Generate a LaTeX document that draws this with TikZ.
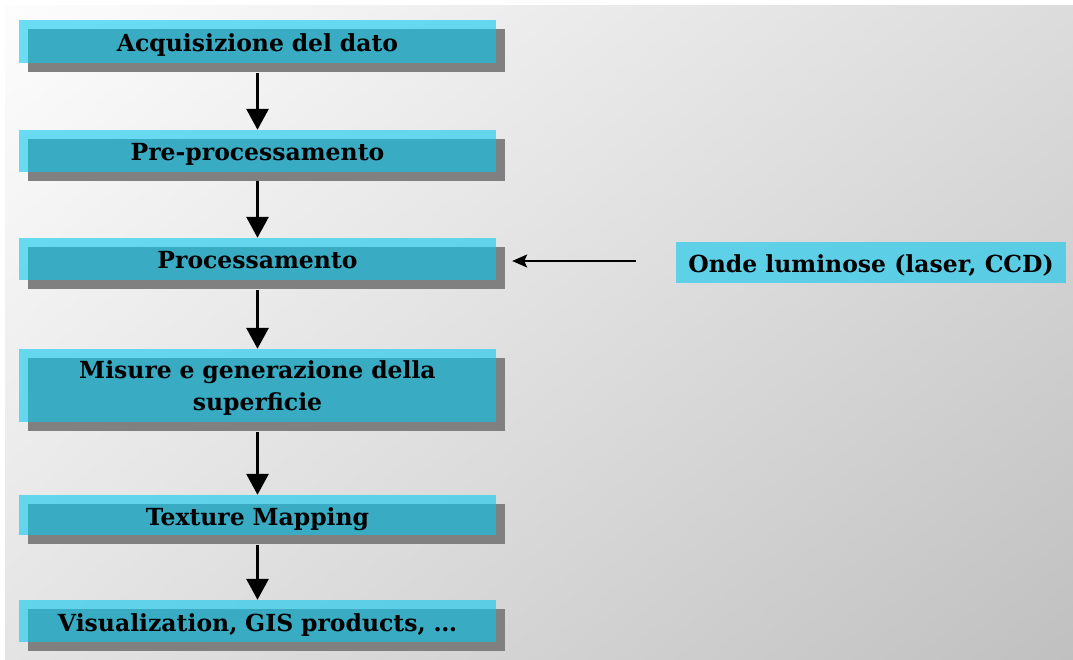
\documentclass[tikz,border=0pt]{standalone}
\usepackage{fontspec}
\setmainfont{DejaVu Serif}
\usetikzlibrary{arrows.meta,shadows,calc,shadings}
\definecolor{boxcyan}{RGB}{10,200,240}
\definecolor{shadowgray}{RGB}{128,128,128}
\definecolor{bgul}{RGB}{253,253,253}
\definecolor{bgur}{RGB}{220,220,220}
\definecolor{bgll}{RGB}{228,228,228}
\definecolor{bglr}{RGB}{192,192,192}
\tikzset{
  stepbox/.style={draw=none, fill=boxcyan, fill opacity=0.6, text opacity=1,
    inner sep=0pt, minimum width=477pt, text width=470pt, align=center,
    text height=20pt, text depth=0pt,
    font=\fontsize{23.5}{32}\selectfont\bfseries,
    drop shadow={shadow xshift=9pt, shadow yshift=-9pt, fill=shadowgray, opacity=1}},
  srcbox/.style={draw=none, fill=boxcyan, fill opacity=0.6, text opacity=1,
    inner sep=0pt, minimum width=390pt, minimum height=41pt, align=center,
    text height=20pt, text depth=0pt,
    font=\fontsize{23.5}{32}\selectfont\bfseries},
  flow/.style={line width=3pt, -{Triangle[width=22pt,length=21pt]}},
  feed/.style={line width=2pt, -{Stealth[width=13pt,length=15pt,inset=3pt]}}
}
\begin{document}
\begin{tikzpicture}[x=1pt,y=-1pt]
\useasboundingbox (0,0) rectangle (1073,660);
\fill[white] (0,0) rectangle (1073,660);
\shade[upper left=bgul, upper right=bgur, lower left=bgll, lower right=bglr]
  (5,6) rectangle (1073,660);

\node[stepbox, minimum height=43pt] (a) at (257.5,41.5) {Acquisizione del dato};
\node[stepbox, minimum height=42pt] (b) at (257.5,151) {Pre-processamento};
\node[stepbox, minimum height=42pt] (c) at (257.5,259) {Processamento};
\node[stepbox, minimum height=73pt, text depth=33.8pt] (d) at (257.5,385.5) {Misure e generazione della\\superficie};
\node[stepbox, minimum height=40pt] (e) at (257.5,515) {Texture Mapping};
\node[stepbox, minimum height=42pt] (f) at (257.5,621) {Visualization, GIS products, \dots};
\node[srcbox] (s) at (871,262.5) {Onde luminose (laser, CCD)};
\coordinate (t) at ($(c.east)+(16,0)$);

\draw[flow] ($(a.south)+(0,10)$) -- (b.north);
\draw[flow] ($(b.south)+(0,9)$) -- (c.north);
\draw[flow] ($(c.south)+(0,10)$) -- (d.north);
\draw[flow] ($(d.south)+(0,10)$) -- (e.north);
\draw[flow] ($(e.south)+(0,10)$) -- (f.north);
\draw[feed] ($(s.west)+(-40,-1.5)$) coordinate (fs) -- (fs -| t);
\end{tikzpicture}
\end{document}
